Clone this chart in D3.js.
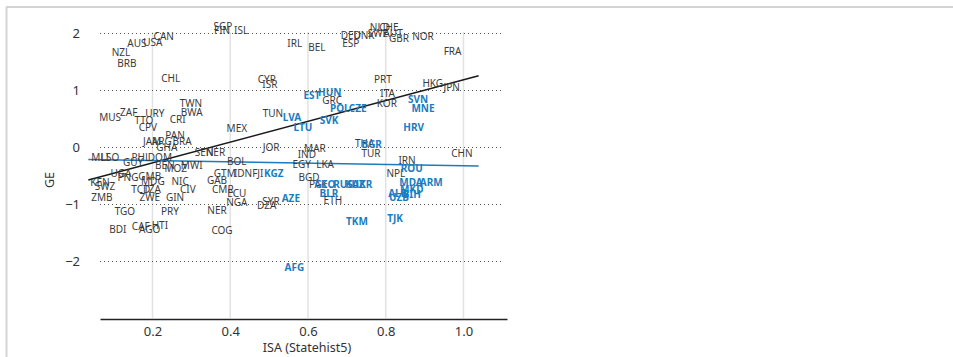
<!DOCTYPE html>
<html>
<head>
<meta charset="utf-8">
<script src="https://cdn.jsdelivr.net/npm/d3@7"></script>
<style>
  body { margin: 0; background: #fff; }
  svg { display: block; font-family: "Noto Sans", "Open Sans", sans-serif; }
</style>
</head>
<body>
<svg id="chart" width="953" height="357"></svg>
<script>
// countries drawn in dark grey
const darkCodes = ["SGP","FIN","ISL","AUS","USA","CAN","NZL","BRB","CHL","CYP","ISR","IRL","BEL","DEU","DNK","ESP","NLD","CHE","SWE","AUT","GBR","NOR","FRA","PRT","HKG","JPN","ITA","KOR","GRC","TUN","TWN","BWA","CRI","ZAF","MUS","URY","TTO","CPV","PAN","MEX","JAM","ARG","BRA","GHA","SEN","NER","JOR","MAR","IND","EGY","LKA","THA","TUR","IRN","CHN","NPL","ETH","BGD","PAK","SYR","DZA","FJI","IDN","GTM","GAB","BOL","CMR","ECU","NGA","NER","COG","PRY","TGO","BDI","CAF","AGO","HTI","ZMB","KEN","SWZ","UGA","PNG","GMB","MDG","NIC","MLI","LSO","GUY","PHL","DOM","BEN","MWI","MOZ","TCD","TZA","CIV","ZWE","GIN"];
const darkIsa = [0.381,0.379,0.428,0.160,0.201,0.229,0.119,0.134,0.247,0.494,0.502,0.566,0.623,0.710,0.744,0.710,0.785,0.808,0.780,0.819,0.834,0.896,0.972,0.793,0.921,0.970,0.805,0.803,0.662,0.510,0.299,0.301,0.265,0.139,0.091,0.206,0.178,0.188,0.258,0.417,0.199,0.224,0.276,0.237,0.333,0.362,0.505,0.618,0.597,0.584,0.644,0.746,0.762,0.855,0.996,0.826,0.664,0.603,0.626,0.505,0.494,0.471,0.433,0.386,0.366,0.417,0.381,0.417,0.417,0.366,0.379,0.245,0.129,0.111,0.170,0.193,0.219,0.070,0.065,0.078,0.119,0.137,0.193,0.201,0.271,0.065,0.091,0.150,0.170,0.219,0.232,0.301,0.260,0.170,0.199,0.291,0.193,0.258];
const darkGe = [2.12,2.05,2.05,1.82,1.84,1.93,1.65,1.46,1.21,1.18,1.09,1.81,1.74,1.96,1.96,1.81,2.09,2.09,2.00,2.00,1.91,1.93,1.67,1.18,1.11,1.04,0.93,0.77,0.82,0.58,0.77,0.60,0.49,0.61,0.51,0.58,0.47,0.35,0.21,0.33,0.09,0.09,0.09,0.00,-0.09,-0.09,0.00,-0.02,-0.14,-0.30,-0.30,0.07,-0.11,-0.23,-0.11,-0.47,-0.93,-0.54,-0.65,-0.96,-1.02,-0.47,-0.47,-0.47,-0.58,-0.26,-0.75,-0.81,-0.98,-1.11,-1.47,-1.14,-1.14,-1.44,-1.39,-1.44,-1.37,-0.89,-0.63,-0.70,-0.46,-0.53,-0.51,-0.61,-0.60,-0.18,-0.18,-0.28,-0.18,-0.18,-0.32,-0.32,-0.37,-0.74,-0.74,-0.74,-0.88,-0.89];

// countries drawn in bold blue
const blueCodes = ["EST","HUN","POL","CZE","SVN","MNE","HRV","LVA","LTU","SVK","BGR","ROU","MDA","ARM","MKD","ALB","BIH","UZB","TJK","TKM","BLR","GEO","RUS","UKR","KAZ","AZE","KGZ","AFG"];
const blueIsa = [0.610,0.656,0.682,0.728,0.883,0.896,0.872,0.559,0.587,0.654,0.764,0.867,0.865,0.917,0.867,0.831,0.867,0.834,0.824,0.726,0.654,0.644,0.690,0.739,0.721,0.556,0.512,0.565];
const blueGe = [0.91,0.96,0.68,0.68,0.84,0.68,0.35,0.51,0.35,0.47,0.04,-0.37,-0.63,-0.63,-0.74,-0.81,-0.84,-0.89,-1.26,-1.30,-0.81,-0.65,-0.65,-0.65,-0.65,-0.91,-0.47,-2.12];

// fitted lines: [isa, ge] at both ends
const fitAll = [[0.035,-0.58],[1.039,1.25]];
const fitBlue = [[0.035,-0.22],[1.039,-0.335]];

const xTicks = [0.2,0.4,0.6,0.8,1.0];
const yTicks = [2,1,0,-1,-2];

const svg = d3.select("#chart");
const x = d3.scaleLinear().domain([0.065,1.112]).range([100,507]);
const y = d3.scaleLinear().domain([-3,2]).range([318,33]);

// outer frame
svg.append("line").attr("x1",6.5).attr("x2",6.5).attr("y1",7).attr("y2",357)
  .attr("stroke","#d4d4d4").attr("stroke-width",2);
svg.append("line").attr("x1",6).attr("x2",953).attr("y1",7).attr("y2",7)
  .attr("stroke","#d4d4d4").attr("stroke-width",2);

// vertical grid
svg.append("g").selectAll("line").data(xTicks).join("line")
  .attr("x1",d => x(d)).attr("x2",d => x(d))
  .attr("y1",y(2)-1).attr("y2",318)
  .attr("stroke","#e2e2e2").attr("stroke-width",1.5);

// horizontal dotted grid
svg.append("g").selectAll("line").data(yTicks).join("line")
  .attr("x1",100).attr("x2",503)
  .attr("y1",d => y(d)+0.5).attr("y2",d => y(d)+0.5)
  .attr("stroke","#555").attr("stroke-width",1).attr("stroke-dasharray","1,3");

// x axis
const xAxis = d3.axisBottom(x).tickValues(xTicks).tickSize(0).tickPadding(8)
  .tickFormat(d3.format(".1f"));
const gx = svg.append("g").attr("transform","translate(0,319)").call(xAxis);
gx.select(".domain").attr("stroke","#222").attr("stroke-width",1.5);
gx.selectAll("text").attr("font-size",13).attr("fill","#333")
  .attr("font-family","Noto Sans, sans-serif");

// y axis labels
const yAxis = d3.axisLeft(y).tickValues(yTicks).tickSize(0).tickPadding(0)
  .tickFormat(d => d < 0 ? "\u2212" + Math.abs(d) : d);
const gy = svg.append("g").attr("transform","translate(80,0)").call(yAxis);
gy.select(".domain").remove();
gy.selectAll("text").attr("font-size",13).attr("fill","#333")
  .attr("font-family","Noto Sans, sans-serif");

svg.append("text").attr("x",307).attr("y",352).attr("text-anchor","middle")
  .attr("font-size",12.5).attr("fill","#333").text("ISA (Statehist5)");
svg.append("text").attr("transform","translate(54,180) rotate(-90)")
  .attr("text-anchor","middle").attr("font-size",12.5).attr("fill","#333").text("GE");

// fit lines
const line = d3.line().x(d => x(d[0])).y(d => y(d[1]));
svg.append("path").attr("d",line(fitAll)).attr("fill","none")
  .attr("stroke","#1a1a1a").attr("stroke-width",1.5);
svg.append("path").attr("d",line(fitBlue)).attr("fill","none")
  .attr("stroke","#1b7bbf").attr("stroke-width",1.5);

// country labels
svg.append("g").selectAll("text").data(darkCodes).join("text")
  .attr("x",(d,i) => x(darkIsa[i])).attr("y",(d,i) => y(darkGe[i]))
  .attr("text-anchor","middle").attr("dy","0.35em")
  .attr("font-size",10).attr("fill","#3a3a3a").text(d => d);

svg.append("g").selectAll("text").data(blueCodes).join("text")
  .attr("x",(d,i) => x(blueIsa[i])).attr("y",(d,i) => y(blueGe[i]))
  .attr("text-anchor","middle").attr("dy","0.35em")
  .attr("font-size",10).attr("font-weight","bold").attr("fill","#1b7bbf").text(d => d);
</script>
</body>
</html>
